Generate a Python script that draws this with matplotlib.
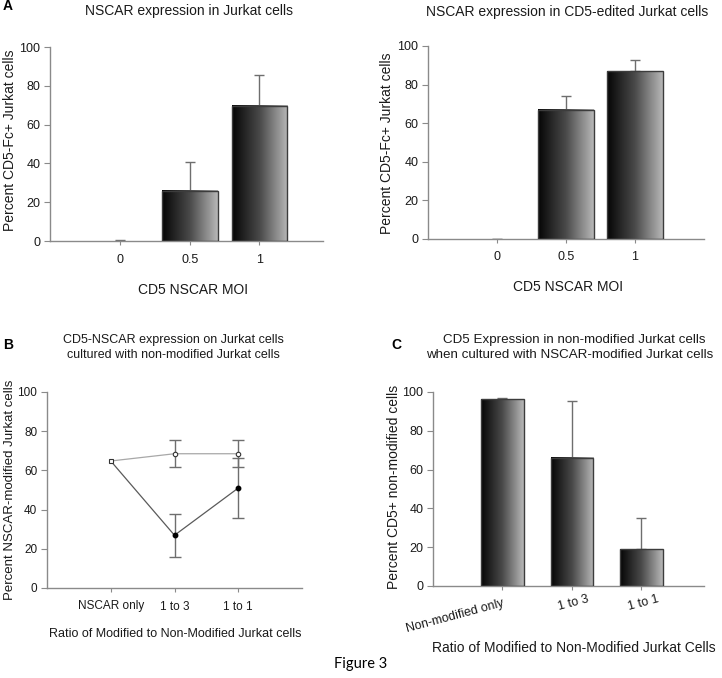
"""Figure 3: NSCAR expression panels (bar + line charts)."""

import matplotlib

matplotlib.use("Agg")
import matplotlib.pyplot as plt
import numpy as np
from matplotlib.colors import LinearSegmentedColormap

plt.rcParams["font.family"] = ["Liberation Sans", "DejaVu Sans"]

W, H = 722, 678

# panel A (left): NSCAR expression in Jurkat cells
moi_labels = ["0", "0.5", "1"]
jurkat_pct = [0.0, 25.9, 69.6]
jurkat_err = [0.5, 15.0, 16.0]

# panel A (right): CD5-edited Jurkat cells
edited_pct = [0.0, 67.0, 87.0]
edited_err = [0.0, 7.3, 6.0]

# panel B: co-culture, two series
ratio_labels = ["NSCAR only", "1 to 3", "1 to 1"]
open_pct = [64.8, 68.5, 68.5]
open_err = [0.0, 7.0, 7.0]
closed_pct = [64.8, 26.9, 51.0]
closed_err = [0.0, 11.0, 15.5]

# panel C: CD5 in non-modified cells
nonmod_labels = ["Non-modified only", "1 to 3", "1 to 1"]
nonmod_pct = [96.2, 66.0, 19.0]
nonmod_err = [0.5, 29.5, 16.2]

SPINE = "#8a8a8a"
TEXT = "#1a1a1a"
ERR = "#6e6e6e"
grad_cmap = LinearSegmentedColormap.from_list("bar", ["#050505", "#4a4a4a", "#b8b8b8"])


def px_axes(fig, left, top, right, bottom):
    return fig.add_axes([left / W, 1 - bottom / H, (right - left) / W, (bottom - top) / H])


def ftext(fig, x, y, s, **kw):
    kw.setdefault("ha", "center")
    kw.setdefault("va", "center")
    kw.setdefault("color", TEXT)
    fig.text(x / W, 1 - y / H, s, **kw)


def style(ax, labels, xmax, size):
    for s in ["top", "right"]:
        ax.spines[s].set_visible(False)
    for s in ["left", "bottom"]:
        ax.spines[s].set_color(SPINE)
        ax.spines[s].set_linewidth(1.0)
    ax.set_xticks([1, 2, 3])
    ax.set_xticklabels(labels)
    ax.set_yticks(range(0, 101, 20))
    ax.tick_params(axis="both", colors=SPINE, labelcolor=TEXT, labelsize=size, direction="out")
    ax.tick_params(axis="x", length=3, pad=6)
    ax.tick_params(axis="y", length=4, pad=3)
    ax.set_xlim(0, xmax)
    ax.set_ylim(0, 100)


def gradient_bars(ax, values, errs, width):
    x = np.arange(1, len(values) + 1)
    grad = np.linspace(0, 1, 256).reshape(1, -1)
    for xi, v in zip(x, values):
        if v <= 0:
            continue
        ax.imshow(grad, cmap=grad_cmap, aspect="auto", zorder=2,
                  extent=[xi - width / 2, xi + width / 2, 0, v])
        ax.bar(xi, v, width, facecolor="none", edgecolor="#3c3c3c", linewidth=1.0, zorder=3)
    lower = np.zeros(len(values))
    ax.errorbar(x, values, yerr=[lower, errs], fmt="none", ecolor=ERR, elinewidth=1.0,
                capsize=3.5, capthick=1.0, zorder=1)


fig = plt.figure(figsize=(W / 100, H / 100), dpi=100)

# --- A left
ax = px_axes(fig, 50, 47, 323, 241)
gradient_bars(ax, jurkat_pct, jurkat_err, 0.8)
style(ax, moi_labels, 3.91, 9)
ftext(fig, 189, 11, "NSCAR expression in Jurkat cells", fontsize=10)
ftext(fig, 10, 140, "Percent CD5-Fc+ Jurkat cells", fontsize=10, rotation=90)
ftext(fig, 193, 290, "CD5 NSCAR MOI", fontsize=10)
ftext(fig, 8, 6, "A", fontsize=10, fontweight="bold", color="black")

# --- A right
ax = px_axes(fig, 428, 46, 704, 239)
gradient_bars(ax, edited_pct, edited_err, 0.81)
style(ax, moi_labels, 4.0, 9)
ftext(fig, 567, 12, "NSCAR expression in CD5-edited Jurkat cells", fontsize=10)
ftext(fig, 387, 143, "Percent CD5-Fc+ Jurkat cells", fontsize=10, rotation=90)
ftext(fig, 568, 287, "CD5 NSCAR MOI", fontsize=10)

# --- B
ax = px_axes(fig, 47, 392, 302, 588)
xb = np.arange(1, 4)
ax.errorbar(xb[1:], closed_pct[1:], yerr=closed_err[1:], fmt="none", ecolor=ERR,
            elinewidth=1.0, capsize=4, capthick=1.0, zorder=2)
ax.errorbar(xb[1:], open_pct[1:], yerr=open_err[1:], fmt="none", ecolor=ERR,
            elinewidth=1.0, capsize=4, capthick=1.0, zorder=2)
ax.plot(xb, closed_pct, color="#5a5a5a", lw=0.9, zorder=3)
ax.plot(xb, open_pct, color="#a8a8a8", lw=0.9, zorder=3)
ax.plot(xb[1:], closed_pct[1:], "o", ms=3.2, mfc="black", mec="black", zorder=4)
ax.plot(xb[1:], open_pct[1:], "o", ms=3.2, mfc="white", mec="#333333", mew=0.8, zorder=4)
ax.plot(xb[:1], open_pct[:1], "s", ms=3.2, mfc="white", mec="#333333", mew=0.8, zorder=5)
style(ax, ratio_labels, 4.0, 8.5)
ftext(fig, 173, 340, "CD5-NSCAR expression on Jurkat cells", fontsize=9)
ftext(fig, 173, 355, "cultured with non-modified Jurkat cells", fontsize=9)
ftext(fig, 10, 490, "Percent NSCAR-modified Jurkat cells", fontsize=9.5, rotation=90)
ftext(fig, 175, 634, "Ratio of Modified to Non-Modified Jurkat cells", fontsize=9)
ftext(fig, 8, 345, "B", fontsize=10, fontweight="bold", color="black")

# --- C
ax = px_axes(fig, 433, 392, 704, 586)
gradient_bars(ax, nonmod_pct, nonmod_err, 0.61)
style(ax, nonmod_labels, 3.9, 9)
ax.tick_params(axis="x", pad=5)
for i, lab in enumerate(ax.get_xticklabels()):
    lab.set_rotation(15)
    lab.set_rotation_mode("anchor")
    lab.set_va("top")
    lab.set_ha("right" if i == 0 else "center")
ftext(fig, 574, 340, "CD5 Expression in non-modified Jurkat cells", fontsize=9.6)
ftext(fig, 570, 355, "when cultured with NSCAR-modified Jurkat cells", fontsize=9.6)
ftext(fig, 394, 487, "Percent CD5+ non-modified cells", fontsize=10, rotation=90)
ftext(fig, 574, 648, "Ratio of Modified to Non-Modified Jurkat Cells", fontsize=10)
ftext(fig, 396, 345, "C", fontsize=10, fontweight="bold", color="black")

ftext(fig, 361, 664, "Figure 3", fontsize=10.5, family=["Lato", "DejaVu Sans"], color="black")

fig.savefig("out.png", dpi=100)
plt.close(fig)
